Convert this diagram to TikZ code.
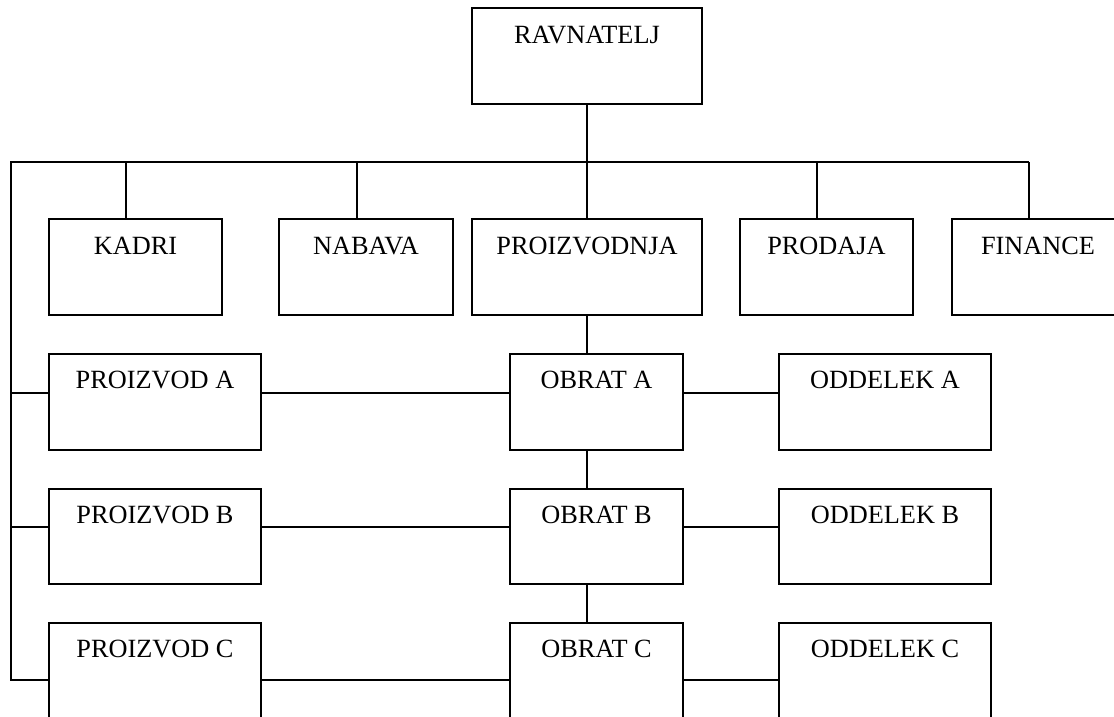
\documentclass[tikz,border=0pt]{standalone}
\usepackage{fontspec}
\setmainfont{Liberation Serif}
\usetikzlibrary{calc}
\begin{document}
\begin{tikzpicture}[x=1pt,y=-1pt,line width=1.6pt,
  box/.style={draw=black,fill=none,rectangle,inner sep=0pt,outer sep=0pt,anchor=north west},
  lbl/.style={inner sep=0pt,font=\fontsize{26.3}{30}\selectfont,anchor=center},
  wire/.style={draw=black,line width=1.6pt}]
\useasboundingbox (0,0) rectangle (1114,717);
\clip (0,0) rectangle (1114,717);
% boxes
\node[box,minimum width=230pt,minimum height=96pt] (rav) at (472,8) {};
\node[box,minimum width=173pt,minimum height=96pt] (kadri) at (49,219) {};
\node[box,minimum width=174pt,minimum height=96pt] (nabava) at (279,219) {};
\node[box,minimum width=230pt,minimum height=96pt] (proiz) at (472,219) {};
\node[box,minimum width=173pt,minimum height=96pt] (prodaja) at (740,219) {};
\node[box,minimum width=172pt,minimum height=96pt] (finance) at (952,219) {};
\node[box,minimum width=212pt,minimum height=96pt] (pA) at (49,354) {};
\node[box,minimum width=173pt,minimum height=96pt] (oA) at (510,354) {};
\node[box,minimum width=212pt,minimum height=96pt] (dA) at (779,354) {};
\node[box,minimum width=212pt,minimum height=95pt] (pB) at (49,489) {};
\node[box,minimum width=173pt,minimum height=95pt] (oB) at (510,489) {};
\node[box,minimum width=212pt,minimum height=95pt] (dB) at (779,489) {};
\node[box,minimum width=212pt,minimum height=120pt] (pC) at (49,623) {};
\node[box,minimum width=173pt,minimum height=120pt] (oC) at (510,623) {};
\node[box,minimum width=212pt,minimum height=120pt] (dC) at (779,623) {};
% labels
\node[lbl] (tRav) at ($(rav.north)+(0,27)$) {RAVNATELJ};
\node[lbl] (tKadri) at ($(kadri.north)+(0,27)$) {KADRI};
\node[lbl] (tNabava) at ($(nabava.north)+(0,27)$) {NABAVA};
\node[lbl] (tProiz) at ($(proiz.north)+(0,27)$) {PROIZVODNJA};
\node[lbl] (tProdaja) at ($(prodaja.north)+(0,27)$) {PRODAJA};
\node[lbl] (tFinance) at ($(finance.north)+(0,27)$) {FINANCE};
\node[lbl] (tpA) at ($(pA.north)+(0,26)$) {PROIZVOD A};
\node[lbl] (toA) at ($(oA.north)+(0,26)$) {OBRAT A};
\node[lbl] (tdA) at ($(dA.north)+(0,26)$) {ODDELEK A};
\node[lbl] (tpB) at ($(pB.north)+(0,26)$) {PROIZVOD B};
\node[lbl] (toB) at ($(oB.north)+(0,26)$) {OBRAT B};
\node[lbl] (tdB) at ($(dB.north)+(0,26)$) {ODDELEK B};
\node[lbl] (tpC) at ($(pC.north)+(0,26)$) {PROIZVOD C};
\node[lbl] (toC) at ($(oC.north)+(0,26)$) {OBRAT C};
\node[lbl] (tdC) at ($(dC.north)+(0,26)$) {ODDELEK C};
% bus coordinates
\coordinate (busL) at (11,162);
\coordinate (busR) at (1029,162);
\coordinate (yA) at (0,393);
\coordinate (yB) at (0,527);
\coordinate (yC) at (0,680);
% connectors
\draw[wire] (busR) -- (busL) -- (busL |- yC) -- (pC.west |- yC);
\draw[wire] (busL |- yA) -- (pA.west |- yA);
\draw[wire] (busL |- yB) -- (pB.west |- yB);
\draw[wire] (rav.south) -- (proiz.north);
\draw[wire] ([xshift=-9.5pt]kadri.north) -- ([xshift=-9.5pt]kadri.north |- busL);
\draw[wire] ([xshift=-9pt]nabava.north) -- ([xshift=-9pt]nabava.north |- busL);
\draw[wire] ([xshift=-9.5pt]prodaja.north) -- ([xshift=-9.5pt]prodaja.north |- busL);
\draw[wire] ([xshift=-9pt]finance.north) -- ([xshift=-9pt]finance.north |- busL);
\draw[wire] (proiz.south) -- (proiz.south |- oA.north);
\draw[wire] (proiz.south |- oA.south) -- (proiz.south |- oB.north);
\draw[wire] (proiz.south |- oB.south) -- (proiz.south |- oC.north);
\draw[wire] (pA.east |- yA) -- (oA.west |- yA);
\draw[wire] (oA.east |- yA) -- (dA.west |- yA);
\draw[wire] (pB.east |- yB) -- (oB.west |- yB);
\draw[wire] (oB.east |- yB) -- (dB.west |- yB);
\draw[wire] (pC.east |- yC) -- (oC.west |- yC);
\draw[wire] (oC.east |- yC) -- (dC.west |- yC);
\end{tikzpicture}
\end{document}
